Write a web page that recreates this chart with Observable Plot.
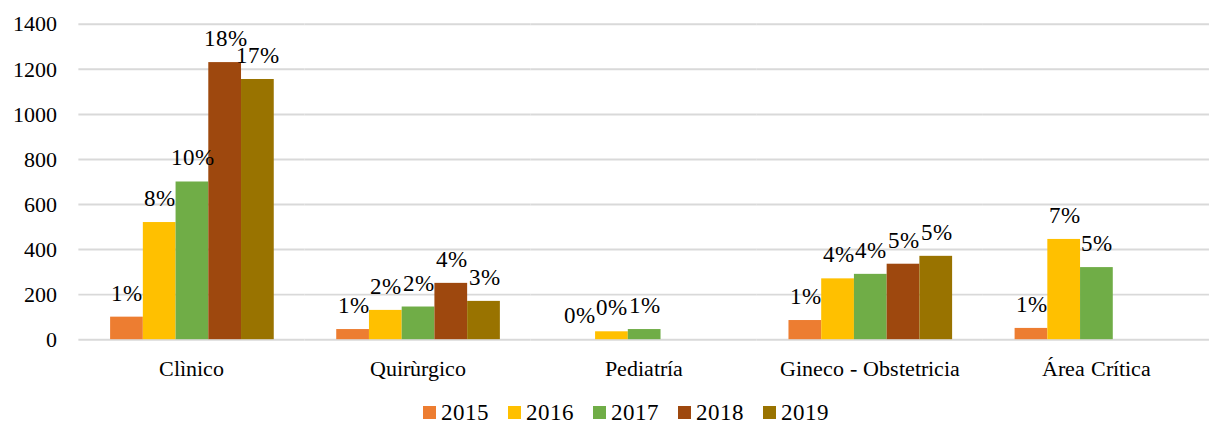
<!DOCTYPE html>
<html>
<head>
<meta charset="utf-8">
<script src="https://cdn.jsdelivr.net/npm/d3@7"></script>
<script src="https://cdn.jsdelivr.net/npm/@observablehq/plot@0.6"></script>
<style>
  @font-face { font-family: "ChartSerif"; src: local("Liberation Serif"), local("LiberationSerif"), local("LiberationSerif-Regular"), local("Times New Roman"), local("DejaVu Serif"), local("DejaVuSerif"); }
  html, body { margin: 0; padding: 0; background: #fff; overflow: hidden; }
  #wrap { width: 1209px; overflow: hidden; }
  #chart svg, #chart svg text { font-family: "ChartSerif", "Liberation Serif", "Times New Roman", serif !important; }
  #legend { display: flex; justify-content: center; align-items: center; padding-left: 43px; gap: 19px;
            font-family: "ChartSerif", "Liberation Serif", "Times New Roman", serif; font-size: 23px; color: #000; height: 32px; }
  .item { display: flex; align-items: center; gap: 5px; }
  .sw { width: 13px; height: 13px; display: inline-block; }
</style>
</head>
<body>
<div id="wrap"><div id="chart"></div></div>
<div id="legend"></div>
<script>
const categories = ["Clìnico", "Quirùrgico", "Pediatría", "Gineco - Obstetricia", "Área Crítica"];
const years = ["2015", "2016", "2017", "2018", "2019"];
const colors = ["#ED7D31", "#FFC000", "#70AD47", "#9E480E", "#997300"];
// values per year, aligned with categories (null = no data)
const v2015 = [100, 45, 0, 85, 50];
const v2016 = [520, 130, 35, 270, 445];
const v2017 = [700, 145, 45, 290, 320];
const v2018 = [1230, 250, null, 335, null];
const v2019 = [1155, 170, null, 370, null];
// percentage labels per year, aligned with categories
const p2015 = ["1%", "1%", "0%", "1%", "1%"];
const p2016 = ["8%", "2%", "0%", "4%", "7%"];
const p2017 = ["10%", "2%", "1%", "4%", "5%"];
const p2018 = ["18%", "4%", null, "5%", null];
const p2019 = ["17%", "3%", null, "5%", null];
const yTicks = [0, 200, 400, 600, 800, 1000, 1200, 1400];

const series = [v2015, v2016, v2017, v2018, v2019];
const pcts = [p2015, p2016, p2017, p2018, p2019];
const data = [];
years.forEach((yr, i) => {
  categories.forEach((c, j) => {
    if (series[i][j] !== null) data.push({cat: c, year: yr, value: series[i][j], pct: pcts[i][j]});
  });
});

const chart = Plot.plot({
  width: 1219,
  height: 400,
  marginLeft: 79,
  marginRight: 0,
  marginTop: 24,
  marginBottom: 58,
  style: {fontSize: "22.5px", color: "#000", background: "#fff"},
  fx: {domain: categories, padding: 0, label: null, tickSize: 0, tickPadding: 21, axis: "bottom"},
  x: {domain: years, paddingInner: 0, paddingOuter: 0.913, axis: null},
  y: {domain: [0, 1400], ticks: yTicks, tickSize: 0, tickPadding: 22, label: null, tickFormat: d => String(d)},
  color: {domain: years, range: colors},
  marks: [
    Plot.ruleY(yTicks, {stroke: "#d9d9d9", strokeWidth: 2}),
    Plot.barY(data, {fx: "cat", x: "year", y: "value", fill: "year"}),
    Plot.text(data, {fx: "cat", x: "year", y: "value", text: "pct", dy: -24, fill: "#000", fontSize: 23})
  ]
});
document.getElementById("chart").appendChild(chart);

const legend = document.getElementById("legend");
years.forEach((yr, i) => {
  const it = document.createElement("div");
  it.className = "item";
  const sw = document.createElement("span");
  sw.className = "sw";
  sw.style.background = colors[i];
  const t = document.createElement("span");
  t.textContent = yr;
  it.appendChild(sw); it.appendChild(t);
  legend.appendChild(it);
});
</script>
</body>
</html>
